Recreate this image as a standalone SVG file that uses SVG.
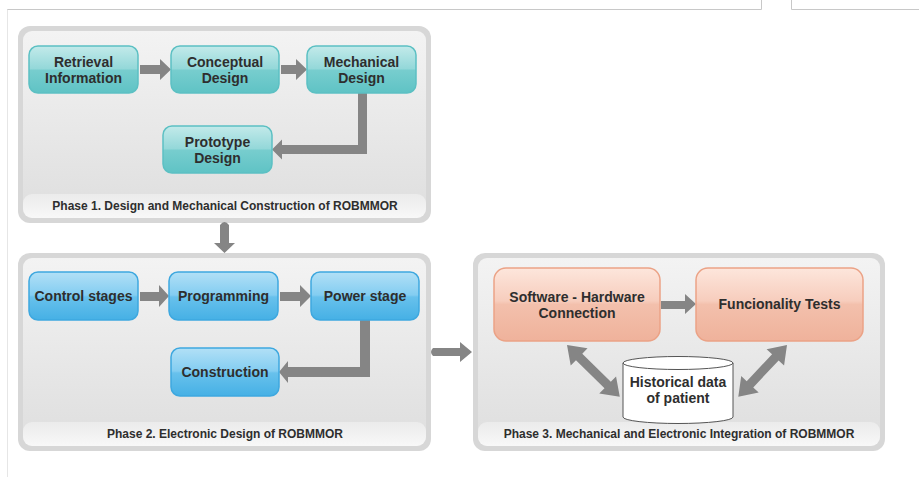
<svg xmlns="http://www.w3.org/2000/svg" width="919" height="477" viewBox="0 0 919 477">
  <defs>
    <linearGradient id="panelFill" x1="0" y1="0" x2="0" y2="1">
      <stop offset="0" stop-color="#f3f3f3"/>
      <stop offset="1" stop-color="#dedede"/>
    </linearGradient>
    <linearGradient id="bandFill" x1="0" y1="0" x2="0" y2="1">
      <stop offset="0" stop-color="#ebebeb"/>
      <stop offset="1" stop-color="#f8f8f8"/>
    </linearGradient>
    <linearGradient id="teal" x1="0" y1="0" x2="0" y2="1">
      <stop offset="0" stop-color="#c3eaea"/>
      <stop offset="0.48" stop-color="#94d8d9"/>
      <stop offset="0.52" stop-color="#77cdce"/>
      <stop offset="1" stop-color="#5fc3c5"/>
    </linearGradient>
    <linearGradient id="blue" x1="0" y1="0" x2="0" y2="1">
      <stop offset="0" stop-color="#b2e0f6"/>
      <stop offset="0.48" stop-color="#83cdf1"/>
      <stop offset="0.52" stop-color="#68c1ec"/>
      <stop offset="1" stop-color="#45b0e5"/>
    </linearGradient>
    <linearGradient id="salmon" x1="0" y1="0" x2="0" y2="1">
      <stop offset="0" stop-color="#fde6dc"/>
      <stop offset="0.45" stop-color="#f7cdbd"/>
      <stop offset="0.5" stop-color="#f3c0ac"/>
      <stop offset="1" stop-color="#efb29b"/>
    </linearGradient>
    <style>
      .outer { fill: #d7d7d7; }
      .inner { fill: url(#panelFill); }
      .band { fill: url(#bandFill); }
      .phase { font-family: "Liberation Sans", Arial, sans-serif; font-weight: bold; font-size: 12px; fill: #2e2e2e; text-anchor: middle; }
      .lbl { font-family: "Liberation Sans", Arial, sans-serif; font-weight: bold; font-size: 14px; fill: #2e2e2e; text-anchor: middle; }
      .n-teal { fill: url(#teal); stroke: #5cc0c3; stroke-width: 1.5; }
      .n-blue { fill: url(#blue); stroke: #3ea8df; stroke-width: 1.5; }
      .n-salmon { fill: url(#salmon); stroke: #eba286; stroke-width: 1.5; }
      .arrow { fill: #858585; }
      .page { stroke: #c8c8c8; stroke-width: 1; fill: none; }
    </style>
  </defs>

  <rect width="919" height="477" fill="#ffffff"/>

  <!-- page frame lines -->
  <g id="frame">
    <path class="page" d="M7.5 477 V9.5 H761.5 V0"/>
    <path class="page" d="M791.5 0 V9.5 H919"/>
    <line x1="7.5" y1="10" x2="7.5" y2="477" stroke="#e6e6e6" stroke-width="1"/>
  </g>

  <!-- phase panels -->
  <g id="phase1">
    <rect class="outer" x="18" y="26" width="413" height="197" rx="12"/>
    <rect class="inner" x="23" y="31" width="403" height="187" rx="9"/>
    <rect class="band" x="23" y="194" width="403" height="24" rx="9"/>
    <text class="phase" x="225" y="209.5">Phase 1. Design and Mechanical Construction of ROBMMOR</text>
  </g>
  <g id="phase2">
    <rect class="outer" x="18" y="253" width="413" height="198" rx="12"/>
    <rect class="inner" x="23" y="258" width="403" height="188" rx="9"/>
    <rect class="band" x="23" y="422" width="403" height="24" rx="9"/>
    <text class="phase" x="225" y="437.5">Phase 2. Electronic Design of ROBMMOR</text>
  </g>
  <g id="phase3">
    <rect class="outer" x="473" y="253" width="412" height="198" rx="12"/>
    <rect class="inner" x="478" y="258" width="402" height="188" rx="9"/>
    <rect class="band" x="478" y="422" width="402" height="24" rx="9"/>
    <text class="phase" x="679" y="437.5">Phase 3. Mechanical and Electronic Integration of ROBMMOR</text>
  </g>

  <!-- connectors -->
  <g id="connectors">
    <!-- phase 1 -->
    <path class="arrow" d="M140 65 H160 V59 L171 69.5 L160 80 V74 H140 Z"/>
    <path class="arrow" d="M281 65 H296 V59 L307 69.5 L296 80 V74 H281 Z"/>
    <path class="arrow" d="M358 93 H367 V154 H282 V159.5 L272 149.5 L282 139.5 V145 H358 Z"/>
    <!-- phase 1 to phase 2 -->
    <path class="arrow" d="M220 225 Q224.5 219 229 225 V243 H235 L224.5 253 L214 243 H220 Z"/>
    <!-- phase 2 -->
    <path class="arrow" d="M140 292 H159 V285 L169 296 L159 307 V301 H140 Z"/>
    <path class="arrow" d="M280 292 H300 V285 L311 296 L300 307 V301 H280 Z"/>
    <path class="arrow" d="M360 320 H370 V377 H288 V383 L279 372 L288 361 V367 H360 Z"/>
    <!-- phase 2 to phase 3 -->
    <path class="arrow" d="M433 348 H460 V342 L472 352 L460 362 V356 H433 Q429 352 433 348 Z"/>
    <!-- phase 3 -->
    <path class="arrow" d="M661 301 H685 V294 L696 304 L685 314 V309 H661 Z"/>
    <path class="arrow" transform="translate(567 345) rotate(44.5)" d="M0 0 L17 -12 V-4.5 H57 V-12 L74 0 L57 12 V4.5 H17 V12 Z"/>
    <path class="arrow" transform="translate(787 345) rotate(133.3)" d="M0 0 L17 -12 V-4.5 H54 V-12 L71 0 L54 12 V4.5 H17 V12 Z"/>
  </g>

  <!-- phase 1 nodes -->
  <g id="retrieval">
    <rect class="n-teal" x="29" y="46" width="109" height="47" rx="9"/>
    <text class="lbl" x="83.5" y="66.5">Retrieval</text>
    <text class="lbl" x="83.5" y="82.5">Information</text>
  </g>
  <g id="conceptual">
    <rect class="n-teal" x="171" y="46" width="108" height="47" rx="9"/>
    <text class="lbl" x="225" y="66.5">Conceptual</text>
    <text class="lbl" x="225" y="82.5">Design</text>
  </g>
  <g id="mechanical">
    <rect class="n-teal" x="307" y="46" width="109" height="47" rx="9"/>
    <text class="lbl" x="361.5" y="66.5">Mechanical</text>
    <text class="lbl" x="361.5" y="82.5">Design</text>
  </g>
  <g id="prototype">
    <rect class="n-teal" x="163" y="126" width="109" height="47" rx="9"/>
    <text class="lbl" x="217.5" y="146.5">Prototype</text>
    <text class="lbl" x="217.5" y="162.5">Design</text>
  </g>

  <!-- phase 2 nodes -->
  <g id="control">
    <rect class="n-blue" x="29" y="272" width="109" height="48" rx="9"/>
    <text class="lbl" x="83.5" y="301">Control stages</text>
  </g>
  <g id="programming">
    <rect class="n-blue" x="169" y="272" width="109" height="48" rx="9"/>
    <text class="lbl" x="223.5" y="301">Programming</text>
  </g>
  <g id="power">
    <rect class="n-blue" x="311" y="272" width="108" height="48" rx="9"/>
    <text class="lbl" x="365" y="301">Power stage</text>
  </g>
  <g id="construction">
    <rect class="n-blue" x="171" y="348" width="108" height="48" rx="9"/>
    <text class="lbl" x="225" y="377">Construction</text>
  </g>

  <!-- phase 3 nodes -->
  <g id="swhw">
    <rect class="n-salmon" x="494" y="268" width="166" height="73" rx="12"/>
    <text class="lbl" x="577" y="301.5">Software - Hardware</text>
    <text class="lbl" x="577" y="317.5">Connection</text>
  </g>
  <g id="tests">
    <rect class="n-salmon" x="696" y="268" width="167" height="73" rx="12"/>
    <text class="lbl" x="779.5" y="309">Funcionality Tests</text>
  </g>
  <g id="history">
    <path d="M623 363 A55 6.5 0 0 1 733 363 V417 A55 6.5 0 0 1 623 417 Z" fill="#ffffff" stroke="#555555" stroke-width="1"/>
    <path d="M623 363 A55 6.5 0 0 0 733 363" fill="none" stroke="#555555" stroke-width="1"/>
    <text class="lbl" x="678" y="386.5">Historical data</text>
    <text class="lbl" x="678" y="402.5">of patient</text>
  </g>
</svg>
